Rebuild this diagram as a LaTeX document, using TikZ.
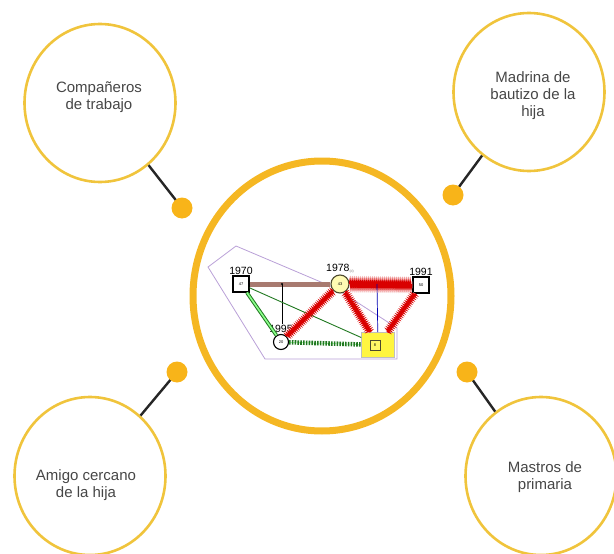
\documentclass[tikz,border=0pt]{standalone}
\usepackage{fontspec}
\setmainfont{Liberation Sans}
\usetikzlibrary{shapes.geometric,decorations.pathmorphing}
\definecolor{ring}{RGB}{245,183,35}
\definecolor{rim}{RGB}{240,196,60}
\definecolor{dot}{RGB}{248,180,25}
\definecolor{ink}{RGB}{70,70,70}
\definecolor{kin}{RGB}{168,122,112}
\definecolor{hull}{RGB}{185,160,215}
\definecolor{leaf}{RGB}{40,150,40}
\tikzset{
 bubble/.style={ellipse,draw=rim,line width=2.6pt,minimum width=151pt,minimum height=158pt},
 tag/.style={text=ink,align=center,font=\fontsize{15}{17}\selectfont},
 stem/.style={draw=black!85,line width=2.4pt},
 male/.style={draw,line width=1.1pt,fill=white,minimum size=16pt,inner sep=0pt,font=\fontsize{4}{4}\selectfont},
 female/.style={circle,draw,line width=1.1pt,fill=white,minimum size=15pt,inner sep=0pt,font=\fontsize{4}{4}\selectfont},
 year/.style={font=\fontsize{10.5}{12}\selectfont,inner sep=1pt},
 zig/.style={draw=red!85!black,line width=1.3pt,decorate,decoration={zigzag,segment length=2pt,amplitude=#1}},
}
\begin{document}
\begin{tikzpicture}[x=1pt,y=-1pt]
\useasboundingbox (0,0) rectangle (614,554);
\node[ellipse,draw=ring,line width=7pt,minimum width=258pt,minimum height=270pt] (core) at (322,296) {};
\node[bubble] (cow) at (100,103) {};
\node[bubble] (god) at (529,92) {};
\node[bubble] (pal) at (90,476) {};
\node[bubble] (tea) at (541,476) {};
\node[tag] (tcow) at (99,97) {Compañeros\\de trabajo};
\node[tag] (tgod) at (533,96) {Madrina de\\bautizo de la\\hija};
\node[tag] (tpal) at (86,485) {Amigo cercano\\de la hija};
\node[tag] (ttea) at (545,477) {Mastros de\\primaria};
\coordinate (dcow) at (182,208);
\coordinate (dgod) at (453,195);
\coordinate (dpal) at (177,372);
\coordinate (dtea) at (467,372);
\draw[stem] (cow) -- (dcow);
\draw[stem] (god) -- (dgod);
\draw[stem] (pal) -- (dpal);
\draw[stem] (tea) -- (dtea);
\foreach \d in {dcow,dgod,dpal,dtea}
  \fill[dot] (\d) circle (10.5pt);
\draw[hull,line width=0.8pt] (208,267) -- (236,246) -- (335,288) -- (397,328) -- (397,359) -- (265,359) -- cycle;
\node[fill=yellow!75,draw=gray!50,line width=0.6pt,minimum width=33pt,minimum height=25pt] (nest) at (378,345) {};
\node[male,minimum size=10pt,line width=0.9pt,fill=yellow!60,draw=olive!40!black] (n08) at (375,345) {8};
\node[male,label={[year]above:1970}] (n47) at (241,284) {47};
\node[circle,draw=olive!40!black,line width=1.1pt,fill=yellow!30,minimum size=18pt,inner sep=0pt,font=\fontsize{4}{4}\selectfont,label={[year]above:1978\raisebox{-1pt}{\fontsize{3.5}{4}\selectfont\color{gray}(d)}}] (n78) at (340,284) {43};
\node[male,label={[year]above:1991}] (n91) at (421,285) {50};
\node[female,label={[year,name=y20]above:1995}] (n20) at (281,342) {20};
\coordinate (kid) at (282,284);
\coordinate (tie) at (377,284);
\draw[kin,line width=5pt] (n47) -- (n78);
\fill (kid) circle (1.2pt);
\draw[line width=1pt] (kid) -- (kid |- y20.north);
\draw[double=green!45,draw=leaf!80!black,line width=1pt,double distance=1.6pt] (n47) -- (n20);
\draw[leaf!80!black,line width=0.9pt] (n47) -- (nest);
\foreach \a/\b in {n20/n78,n78/nest,n91/nest}{
  \draw[red!35,line width=4pt] (\a) -- (\b);
  \draw[zig=2.2pt] (\a) -- (\b);
}
\draw[red!35,line width=7pt] (n78) -- (n91);
\draw[zig=3.2pt,line width=1.6pt] (n78) -- (n91);
\draw[blue!70!black,line width=0.7pt] (tie) -- (nest);
\draw[leaf!80!black,line width=4.5pt,dash pattern=on 1.6pt off 1.2pt,preaction={draw=green!55,solid}] (n20) -- (nest);
\end{tikzpicture}
\end{document}
